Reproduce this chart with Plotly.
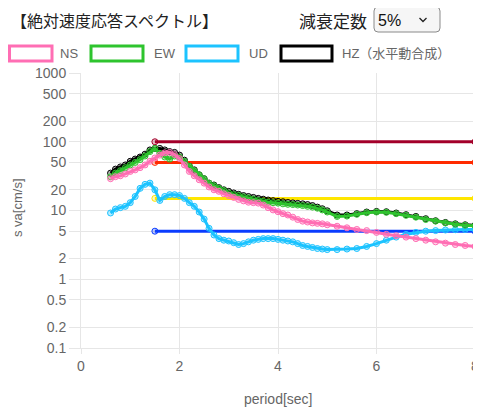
import plotly.graph_objects as go

# ---------------- data ----------------
periods = [0.6, 0.7, 0.8, 0.9, 1.0, 1.1, 1.2, 1.3, 1.4, 1.5,
           1.6, 1.7, 1.8, 1.9, 2.0, 2.1, 2.2, 2.3, 2.4, 2.5,
           2.6, 2.7, 2.8, 2.9, 3.0, 3.1, 3.2, 3.3, 3.4, 3.5,
           3.6, 3.7, 3.8, 3.9, 4.0, 4.1, 4.2, 4.3, 4.4, 4.5,
           4.6, 4.7, 4.8, 4.9, 5.0, 5.2, 5.4, 5.6, 5.8, 6.0,
           6.2, 6.4, 6.6, 6.8, 7.0, 7.2, 7.4, 7.6, 7.8, 8.0]

ns = [29, 31, 32, 34, 37, 39, 42, 46, 52, 58,
      64, 69, 70, 65, 57, 46, 37, 32, 28, 25,
      22, 20, 19, 17.5, 16.5, 15.5, 14.5, 13.8, 13.2, 13.0,
      12.8, 12.0, 11.0, 10.2, 9.6, 9.0, 8.6, 8.0, 7.4, 7.0,
      6.8, 6.6, 6.5, 6.4, 6.2, 5.9, 5.6, 5.3, 5.1, 4.8,
      4.5, 4.3, 4.1, 3.9, 3.7, 3.5, 3.35, 3.2, 3.1, 3.0]

ew = [31, 35, 38, 42, 46, 50, 55, 62, 72, 80,
      68, 60, 56, 62, 60, 52, 44, 38, 33, 29,
      25, 23, 21, 19.5, 18, 17, 16.5, 15.8, 15.2, 14.6,
      14.0, 13.6, 13.2, 13.0, 12.8, 12.5, 12.3, 12.2, 12.0, 11.8,
      11.5, 11.2, 10.8, 10.2, 9.5, 8.2, 8.3, 8.8, 9.3, 9.5,
      9.4, 9.0, 8.5, 8.0, 7.4, 7.0, 6.6, 6.3, 6.1, 6.0]

ud = [9.2, 10.5, 11, 11.5, 13, 16, 21, 24, 25, 20,
      14, 16, 17, 17, 16.5, 15, 13, 11.5, 9.5, 7.5,
      5.5, 4.4, 3.9, 3.7, 3.6, 3.4, 3.2, 3.3, 3.5, 3.7,
      3.8, 3.9, 3.9, 3.9, 3.8, 3.7, 3.6, 3.5, 3.3, 3.1,
      3.0, 2.9, 2.8, 2.75, 2.7, 2.7, 2.75, 2.8, 3.0, 3.3,
      3.7, 4.1, 4.5, 4.8, 5.0, 5.1, 5.2, 5.25, 5.3, 5.3]

hz = [35, 40, 43, 46, 52, 56, 60, 66, 76, 80,
      80, 76, 72, 70, 64, 54, 44, 39, 33, 29,
      25, 23.5, 21.5, 20, 19, 18, 17.2, 16.5, 16, 15.5,
      15, 14.6, 14.2, 13.9, 13.6, 13.4, 13.1, 12.9, 12.7, 12.5,
      12.2, 11.8, 11.2, 10.6, 9.9, 8.6, 8.6, 9.0, 9.5, 9.7,
      9.6, 9.2, 8.7, 8.2, 7.6, 7.1, 6.7, 6.4, 6.2, 6.1]

ref_x = [1.5, 8.0]
ref_levels = [100, 50, 15, 5]
ref_colors = ["#a3002a", "#ff2a00", "#ffe600", "#0a3cff"]
ref_fills = ["rgba(163,0,42,0.25)", "rgba(255,42,0,0.25)",
             "rgba(255,230,0,0.25)", "rgba(10,60,255,0.25)"]

series_names = ["NS", "EW", "UD", "HZ（水平動合成）"]
series_values = [ns, ew, ud, hz]
series_colors = ["#ff6eb4", "#2ec42e", "#1cc3ff", "#000000"]
series_fills = ["rgba(255,110,180,0.3)", "rgba(46,196,46,0.3)",
                "rgba(28,195,255,0.3)", "rgba(0,0,0,0.25)"]

y_ticks = [0.1, 0.2, 0.5, 1, 2, 5, 10, 20, 50, 100, 200, 500, 1000]
y_tick_text = ["0.1", "0.2", "0.5", "1", "2", "5", "10", "20", "50", "100", "200", "500", "1000"]
x_ticks = [0, 2, 4, 6, 8]

# ---------------- figure ----------------
# the page body adds an 8px offset, so the figure is 8px smaller and all
# reference pixel positions are shifted by OFF
OFF = 8
W, H = 481 - OFF, 407 - OFF
L, R, T, B = 81 - OFF, 6, 73 - OFF, 59
PW, PH = W - L - R, H - T - B


def px(xp):
    return (xp - OFF - L) / PW


def py(yp):
    return (H - B - (yp - OFF)) / PH


fig = go.Figure()

for lvl, col, fc in zip(ref_levels, ref_colors, ref_fills):
    fig.add_trace(go.Scatter(
        x=ref_x, y=[lvl, lvl], mode="lines+markers",
        line=dict(color=col, width=3),
        marker=dict(size=6, color=fc, line=dict(color=col, width=1)),
        showlegend=False, hoverinfo="skip", cliponaxis=False))

# draw HZ first (bottom) and NS last (top)
for name, vals, col, fc in reversed(list(zip(series_names, series_values, series_colors, series_fills))):
    fig.add_trace(go.Scatter(
        x=periods, y=vals, mode="lines+markers", name=name,
        line=dict(color=col, width=3),
        marker=dict(size=6, color=fc, line=dict(color=col, width=1)),
        showlegend=False, cliponaxis=False))

grid = "#e6e6e6"
fig.update_xaxes(range=[0, 8], tickvals=x_ticks, showgrid=True, gridcolor=grid,
                 gridwidth=1, zeroline=False, showline=True, linecolor=grid,
                 ticks="outside", ticklen=5, tickcolor=grid,
                 tickfont=dict(family="Liberation Sans, Arial", size=14, color="#666"))
fig.update_yaxes(type="log", range=[-1, 3], tickvals=y_ticks, ticktext=y_tick_text,
                 showgrid=True, gridcolor=grid, gridwidth=1, zeroline=False,
                 showline=True, linecolor=grid, ticks="outside", ticklen=11,
                 tickcolor=grid,
                 tickfont=dict(family="Liberation Sans, Arial", size=14, color="#666"))

shapes = []
annotations = []

# legend (Chart.js style boxes)
leg_items = [(9.5, 52, 58), (91, 143, 152), (186, 238, 247), (281, 332, 340)]
box_top, box_bot = 46, 61
for (x0, x1, tx), name, col in zip(leg_items, series_names, series_colors):
    shapes.append(dict(type="rect", xref="paper", yref="paper",
                       x0=px(x0), x1=px(x1), y0=py(box_bot), y1=py(box_top),
                       line=dict(color=col, width=3), fillcolor="white"))
    annotations.append(dict(xref="paper", yref="paper", x=px(tx), y=py(53.5),
                            xanchor="left", yanchor="middle", showarrow=False,
                            text=name,
                            font=dict(family="Liberation Sans, Noto Sans CJK JP", size=13, color="#666")))

# header texts
annotations.append(dict(xref="paper", yref="paper", x=px(9), y=py(20),
                        xanchor="left", yanchor="middle", showarrow=False,
                        text="【絶対速度応答スペクトル】",
                        font=dict(family="Noto Sans CJK JP", size=16, color="#222")))
annotations.append(dict(xref="paper", yref="paper", x=px(369), y=py(20),
                        xanchor="right", yanchor="middle", showarrow=False,
                        text="減衰定数",
                        font=dict(family="Noto Sans CJK JP", size=17, color="#222")))

# dropdown box with rounded corners
bx0, bx1, by0, by1, rr = 374, 440, 7, 32, 4
path = (f"M {px(bx0 + rr)},{py(by0)} L {px(bx1 - rr)},{py(by0)} "
        f"Q {px(bx1)},{py(by0)} {px(bx1)},{py(by0 + rr)} "
        f"L {px(bx1)},{py(by1 - rr)} Q {px(bx1)},{py(by1)} {px(bx1 - rr)},{py(by1)} "
        f"L {px(bx0 + rr)},{py(by1)} Q {px(bx0)},{py(by1)} {px(bx0)},{py(by1 - rr)} "
        f"L {px(bx0)},{py(by0 + rr)} Q {px(bx0)},{py(by0)} {px(bx0 + rr)},{py(by0)} Z")
shapes.append(dict(type="path", xref="paper", yref="paper", path=path,
                   line=dict(color="#8a8a8a", width=1), fillcolor="#f6f6f6"))
# chevron
chev = f"M {px(419.5)},{py(18)} L {px(423)},{py(21.5)} L {px(426.5)},{py(18)}"
shapes.append(dict(type="path", xref="paper", yref="paper", path=chev,
                   line=dict(color="#222", width=1.3)))
annotations.append(dict(xref="paper", yref="paper", x=px(376), y=py(20),
                        xanchor="left", yanchor="middle", showarrow=False,
                        text="5%",
                        font=dict(family="Liberation Sans, Arial", size=16, color="#111")))

# axis titles
annotations.append(dict(xref="paper", yref="paper", x=px(278), y=py(399),
                        xanchor="center", yanchor="middle", showarrow=False,
                        text="period[sec]",
                        font=dict(family="Liberation Sans, Arial", size=14, color="#666")))
annotations.append(dict(xref="paper", yref="paper", x=px(17), y=py(208),
                        xanchor="center", yanchor="middle", showarrow=False,
                        textangle=-90, text="s va[cm/s]",
                        font=dict(family="Liberation Sans, Arial", size=13, color="#666")))

fig.update_layout(
    width=W, height=H,
    margin=dict(l=L, r=R, t=T, b=B, autoexpand=False),
    paper_bgcolor="white", plot_bgcolor="white",
    showlegend=False,
    shapes=shapes, annotations=annotations,
)

fig.write_html("out.html")
